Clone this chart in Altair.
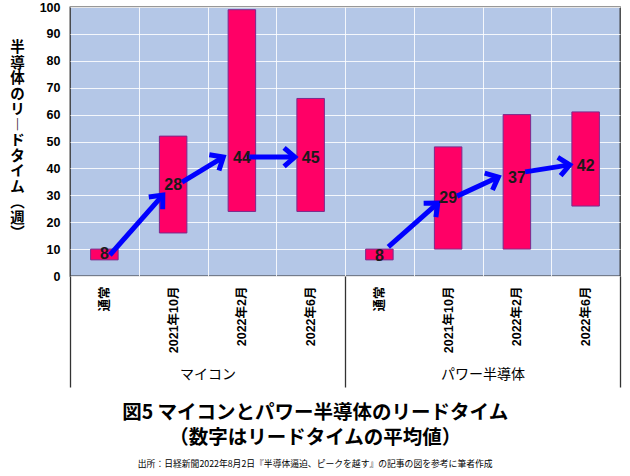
import math
import altair as alt
import pandas as pd

# ---- data ----
groups = ["マイコン"] * 4 + ["パワー半導体"] * 4
periods = ["通常", "2021年10月", "2022年2月", "2022年6月"] * 2
low = [6, 16, 24, 24, 6, 10, 10, 26]
high = [10, 52, 99, 66, 10, 48, 60, 61]
avg = [8, 28, 44, 45, 8, 29, 37, 42]
label_y = [8, 34, 44, 44, 7.5, 29, 36.5, 41]

# arrows (category-index units on x, weeks on y)
arrow_x1 = [0.58, 1.63, 2.57, 4.63, 5.63, 6.62]
arrow_y1 = [7.8, 34.9, 44.2, 10.8, 29.7, 38.7]
arrow_x2 = [1.35, 2.23, 3.27, 5.35, 6.23, 7.27]
arrow_y2 = [30.1, 44.2, 44.2, 27.1, 36.8, 41.3]

y_ticks = list(range(0, 101, 10))
y_title = ["半", "導", "体", "の", "リ", "︱", "ド", "タ", "イ", "ム", "︵", "週", "︶"]
title_lines = ["図5 マイコンとパワー半導体のリードタイム", "（数字はリードタイムの平均値）"]
source = "出所：日経新聞2022年8月2日『半導体逼迫、ピークを越す』の記事の図を参考に筆者作成"

W, H = 550, 269
NCAT = len(periods)

df = pd.DataFrame({
    "idx": list(range(NCAT)), "group": groups, "period": periods,
    "low": low, "high": high, "avg": avg, "ly": label_y,
})
df["xl"] = df["idx"] + 0.3
df["xr"] = df["idx"] + 0.7
df["xc"] = df["idx"] + 0.5

px_x = W / NCAT
px_y = H / 100.0
angles = []
for a, b, c, d in zip(arrow_x1, arrow_y1, arrow_x2, arrow_y2):
    dx = (c - a) * px_x
    dy = -(d - b) * px_y
    angles.append(math.degrees(math.atan2(dy, dx)) % 360)
arrows = pd.DataFrame({"x1": arrow_x1, "y1": arrow_y1, "x2": arrow_x2, "y2": arrow_y2, "ang": angles})

xs = alt.Scale(domain=[0, NCAT], nice=False, zero=False)
ys = alt.Scale(domain=[0, 100], nice=False, zero=True)

JP = "Noto Sans CJK JP"
LAT = "Liberation Sans"

TITLE_LH = 15.5
cat_expr = "[" + ",".join("'%s'" % p for p in periods) + "][floor(datum.value)]"
cat_axis = alt.Axis(
    values=[i + 0.5 for i in range(NCAT)], labelExpr=cat_expr, labelAngle=270,
    labelFont=LAT + ", " + JP, labelFontWeight="bold", labelFontSize=12.5, labelColor="black",
    labelPadding=10, ticks=False, domain=False, grid=False, title=None, orient="bottom",
)
group_axis = alt.Axis(
    values=[2, 6], labelExpr="datum.value < 4 ? 'マイコン' : 'パワー半導体'", labelAngle=0,
    labelFont=JP, labelFontSize=14, labelColor="black", labelPadding=91, labelBaseline="top",
    ticks=False, domain=False, grid=False, title=None, orient="bottom",
)
sep_axis = alt.Axis(
    values=[0, 4, 8], labels=False, ticks=True, tickSize=111, tickColor="#333333", tickWidth=1.3,
    domain=False, grid=False, title=None, orient="bottom",
)
grid_axis = alt.Axis(
    values=list(range(1, NCAT)), labels=False, ticks=False, domain=False, grid=True,
    gridColor="#FFFFFF", gridOpacity=0.85, gridWidth=1, title=None, orient="bottom",
)
y_axis = alt.Axis(
    values=y_ticks, grid=True, gridColor="#FFFFFF", gridOpacity=0.85, ticks=False, domain=False,
    labelFont=LAT, labelFontWeight="bold", labelFontSize=12.5, labelColor="black", labelPadding=10,
    title=y_title, titleAngle=0, titleX=-53, titleY=H / 2 - TITLE_LH * len(y_title) / 2,
    titleAlign="center", titleBaseline="top",
    titleFont=JP, titleFontSize=14.5, titleFontWeight="bold", titleLineHeight=TITLE_LH, titleColor="black",
    orient="left",
)

bars = alt.Chart(df).mark_rect(fill="#FF0066", stroke="#7A2A8C", strokeWidth=1).encode(
    x=alt.X("xl:Q", scale=xs, axis=cat_axis),
    x2="xr:Q",
    y=alt.Y("low:Q", scale=ys, axis=y_axis),
    y2="high:Q",
)

shafts = alt.Chart(arrows).mark_rule(color="#0000FF", strokeWidth=5, strokeCap="butt").encode(
    x=alt.X("x1:Q", scale=xs, axis=sep_axis),
    x2="x2:Q",
    y=alt.Y("y1:Q", scale=ys, axis=y_axis),
    y2="y2:Q",
)

heads = alt.Chart(arrows).mark_point(
    shape="M-1.1,-0.95L0,0L-1.1,0.95", filled=False, stroke="#0000FF", strokeWidth=5,
    size=380, opacity=1, strokeJoin="miter",
).encode(
    x=alt.X("x2:Q", scale=xs, axis=grid_axis),
    y=alt.Y("y2:Q", scale=ys, axis=y_axis),
    angle=alt.Angle("ang:Q", scale=None),
)

labels = alt.Chart(df).mark_text(
    font="Liberation Sans Narrow, Liberation Sans", fontWeight="bold", fontSize=16, color="#1A1A1A",
).encode(
    x=alt.X("xc:Q", scale=xs, axis=group_axis),
    y=alt.Y("ly:Q", scale=ys, axis=y_axis),
    text=alt.Text("avg:Q"),
)

chart = alt.layer(bars, shafts, heads, labels).resolve_axis(x="independent", y="shared").properties(
    width=W, height=H,
    autosize=alt.AutoSizeParams(type="none"),
    padding={"left": 70, "top": 7, "right": 10, "bottom": 200},
    title=alt.TitleParams(
        text=title_lines, subtitle=source, orient="bottom", anchor="middle", frame="bounds",
        font=JP, fontSize=19.5, fontWeight="bold", lineHeight=25, color="black", offset=16,
        subtitleFont=JP, subtitleFontSize=8.8, subtitleColor="black", subtitlePadding=12,
    ),
).configure_view(fill="#B4C7E7", stroke="#333333", strokeWidth=1.3)

chart.save("out.html", embed_options={"renderer": "svg", "actions": False})
